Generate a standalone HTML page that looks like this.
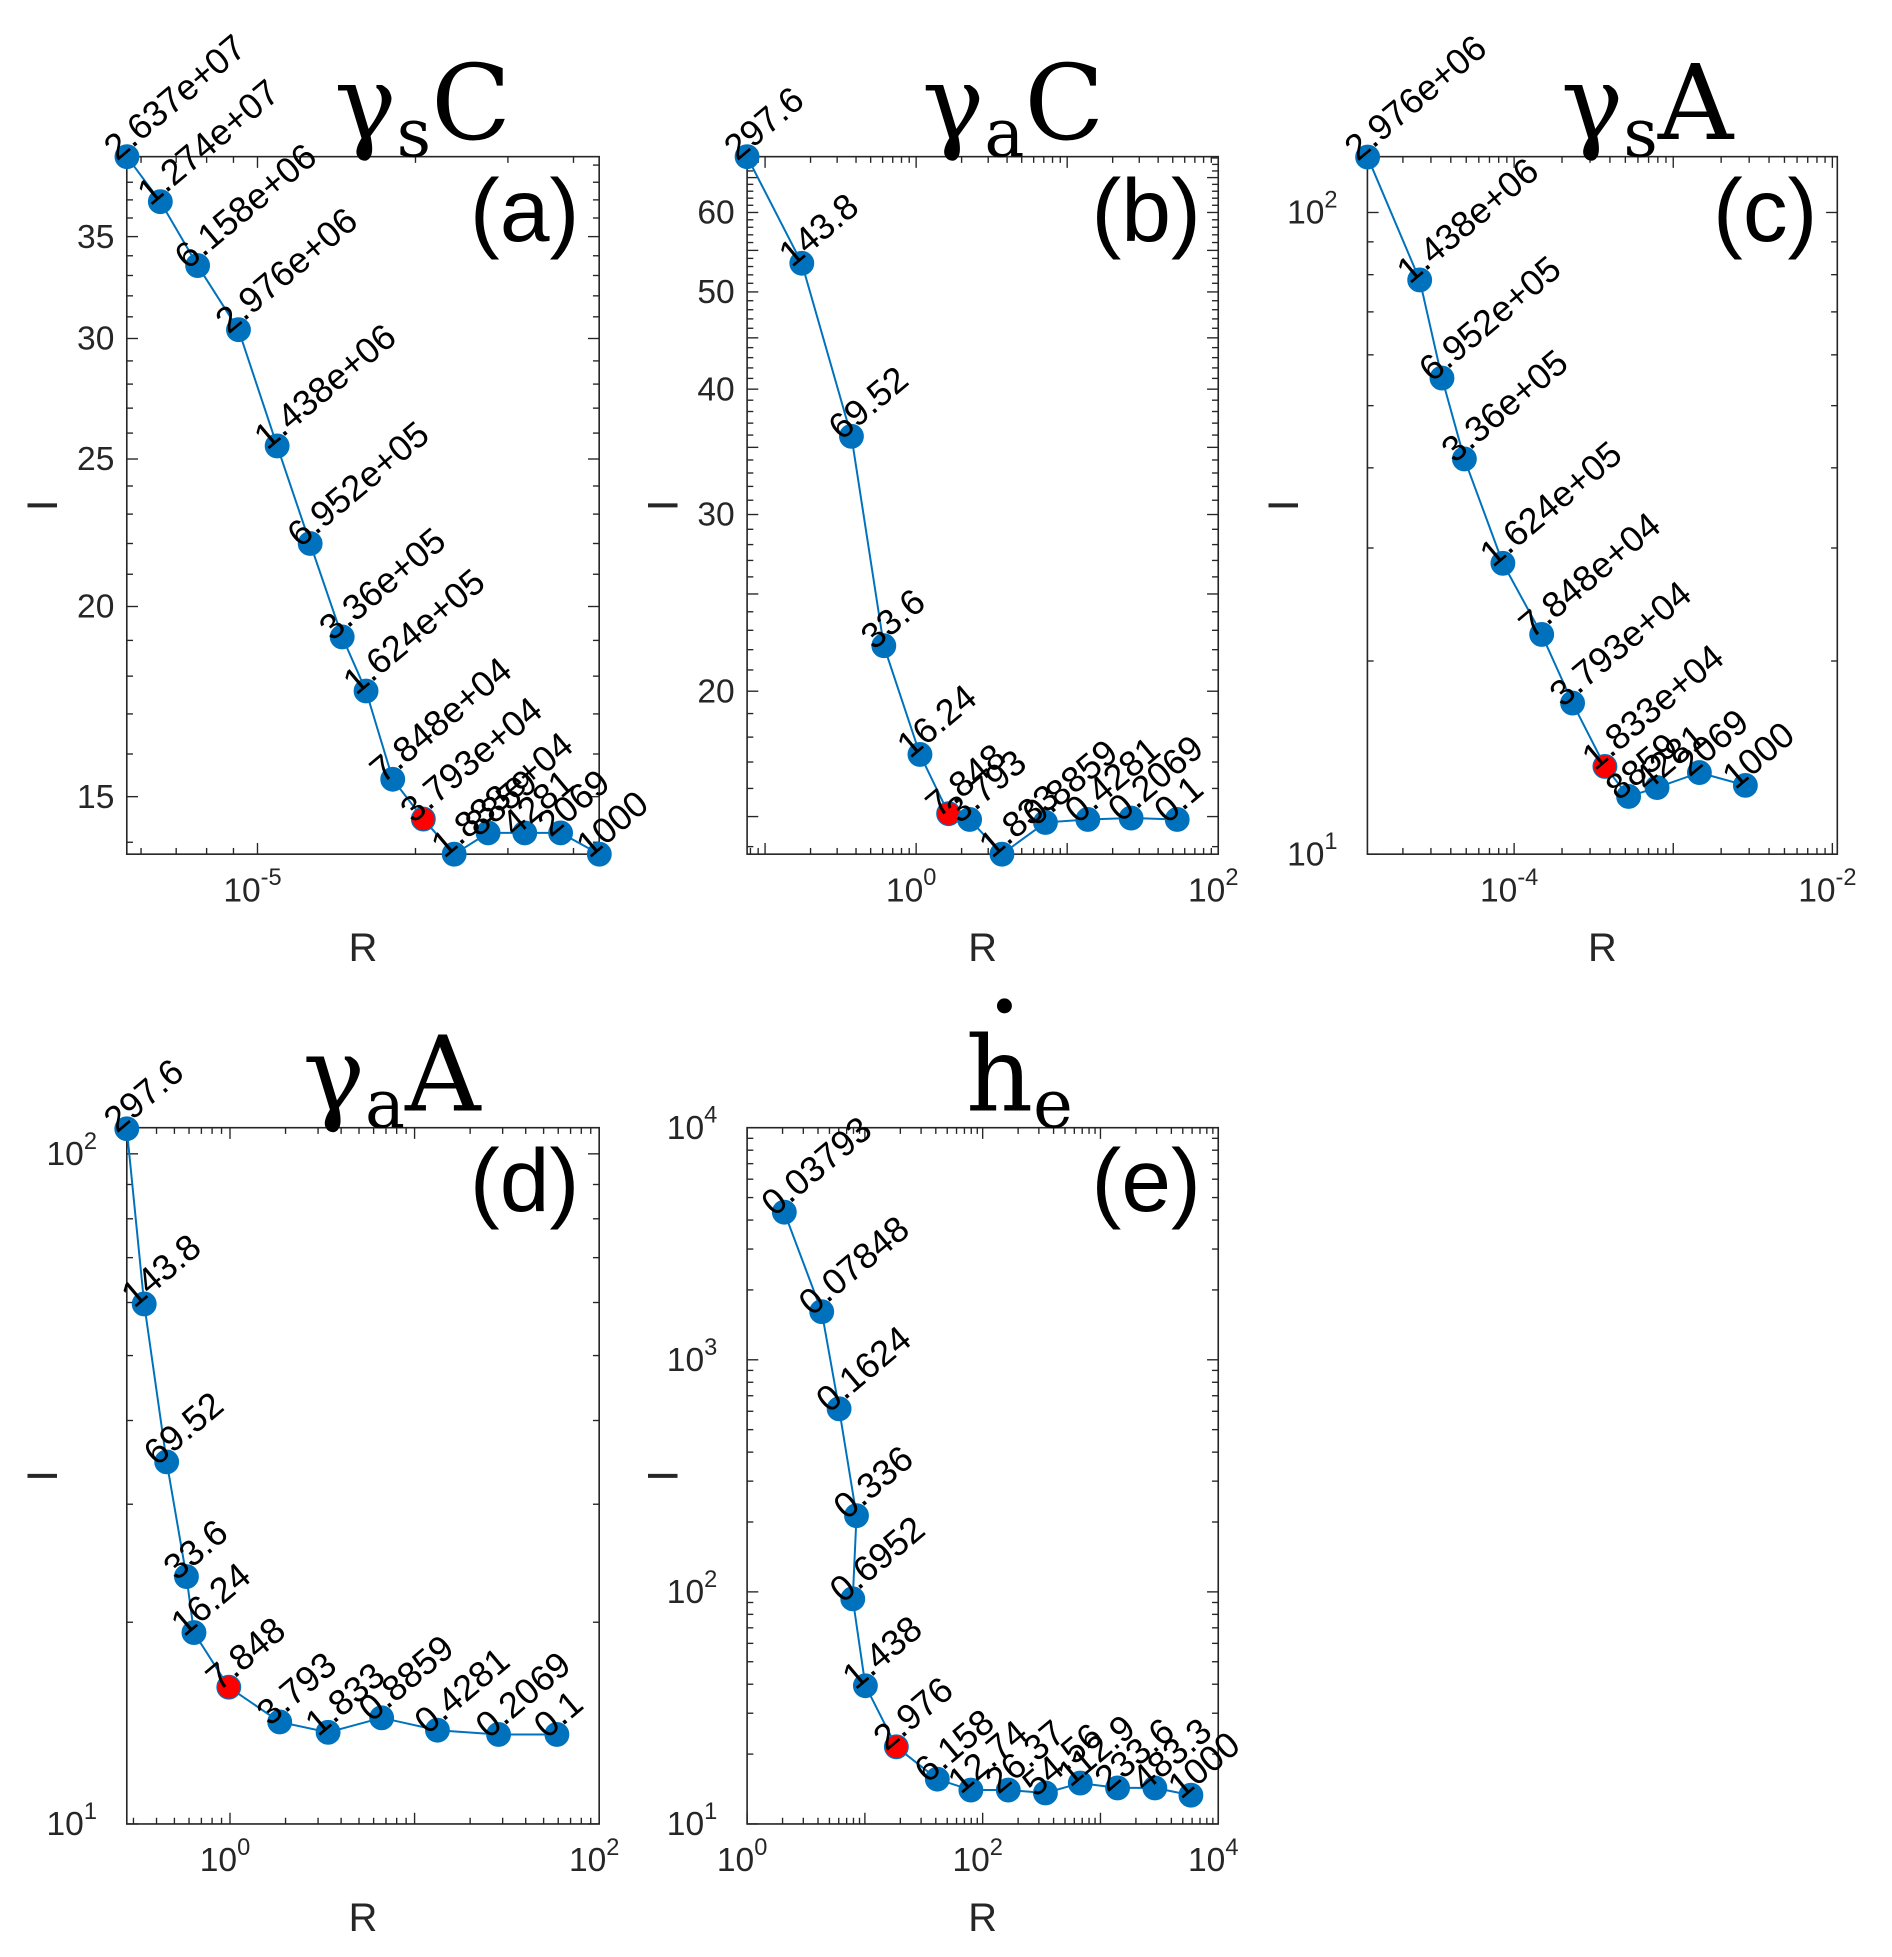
<!DOCTYPE html>
<html><head><meta charset="utf-8"><style>
html,body{margin:0;padding:0;background:#fff;}
svg{display:block;}
</style></head><body>
<svg id="fig" width="1892" height="1957" viewBox="0 0 1522 1574" preserveAspectRatio="none" xmlns="http://www.w3.org/2000/svg" font-family="Liberation Sans, sans-serif"></svg>
<script>
// ---- data (panel a) ----
const aR=[5.64e-6,6.53e-6,7.69e-6,9.2e-6,1.09e-5,1.26e-5,1.45e-5,1.61e-5,1.81e-5,2.07e-5,2.37e-5,2.75e-5,3.23e-5,3.78e-5,4.48e-5];
const aI=[39.5,36.9,33.5,30.4,25.5,22.0,19.1,17.6,15.4,14.5,13.75,14.2,14.2,14.2,13.75];
const aLabels=["2.637e+07","1.274e+07","6.158e+06","2.976e+06","1.438e+06","6.952e+05","3.36e+05","1.624e+05","7.848e+04","3.793e+04","1.833e+04","8859","4281","2069","1000"];
const aRed=9;
// ---- data (panel b) ----
const bR=[0.076,0.175,0.373,0.611,1.06,1.64,2.26,3.70,7.18,13.7,26.5,53.5];
const bI=[68.2,53.4,35.9,22.2,17.3,15.1,14.9,13.76,14.8,14.9,14.95,14.9];
const bLabels=["297.6","143.8","69.52","33.6","16.24","7.848","3.793","1.833","0.8859","0.4281","0.2069","0.1"];
const bRed=5;
// ---- data (panel c) ----
const cR=[1.20e-5,2.55e-5,3.52e-5,4.87e-5,8.5e-5,1.49e-4,2.33e-4,3.72e-4,5.24e-4,7.91e-4,1.46e-3,2.84e-3];
const cI=[122,78.5,55.2,41.3,28.4,22.0,17.2,13.7,12.3,12.7,13.4,12.8];
const cLabels=["2.976e+06","1.438e+06","6.952e+05","3.36e+05","1.624e+05","7.848e+04","3.793e+04","1.833e+04","8859","4281","2069","1000"];
const cRed=7;
// ---- data (panel d) ----
const dR=[0.276,0.343,0.454,0.581,0.638,0.985,1.86,3.40,6.63,13.3,28.5,59.0];
const dI=[109,59.7,34.7,23.4,19.3,16.0,14.2,13.7,14.4,13.8,13.6,13.6];
const dLabels=["297.6","143.8","69.52","33.6","16.24","7.848","3.793","1.833","0.8859","0.4281","0.2069","0.1"];
const dRed=5;
// ---- data (panel e) ----
const eR=[2.07,4.30,6.04,8.49,7.89,10.1,18.5,41.2,79.4,165,341,674,1397,2897,5860];
const eI=[4325,1611,615,213,93.3,39.4,21.5,15.6,14.0,14.0,13.6,15.0,14.3,14.3,13.3];
const eLabels=["0.03793","0.07848","0.1624","0.336","0.6952","1.438","2.976","6.158","12.74","26.37","54.56","112.9","233.6","483.3","1000"];
const eRed=6;
// tick labels
const aYTicks=[15,20,25,30,35]; const aXTicks=[-5];
const bYTicks=[20,30,40,50,60]; const bXTicks=[0,2];
const cYTicks=[1,2]; const cXTicks=[-4,-2];
const dYTicks=[1,2]; const dXTicks=[0,2];
const eYTicks=[1,2,3,4]; const eXTicks=[0,2,4];

const NS="http://www.w3.org/2000/svg";
const svg=document.getElementById('fig');
function el(t,a,p){const e=document.createElementNS(NS,t);for(const k in a)e.setAttribute(k,a[k]);(p||svg).appendChild(e);return e;}

const panels=[
 {id:'a',box:[102,126,482,687],xd:[-5.249,-4.349],yd:[Math.log10(13.75),Math.log10(39.5)],R:aR,I:aI,L:aLabels,red:aRed,yt:aYTicks,yPow:false,xt:aXTicks,ytMinorLin:[14,40],title:['γ','s','C'],tx:340,ty:112,lbl:'(a)',lx:422,ly:194},
 {id:'b',box:[601,126,980,687],xd:[-1.119,2],yd:[Math.log10(13.76),Math.log10(68.2)],R:bR,I:bI,L:bLabels,red:bRed,yt:bYTicks,yPow:false,xt:bXTicks,ytMinorLin:[14,68],title:['γ','a','C'],tx:815,ty:112,lbl:'(b)',lx:922,ly:194},
 {id:'c',box:[1100,126,1478,687],xd:[-4.922,-1.969],yd:[1,2.087],R:cR,I:cI,L:cLabels,red:cRed,yt:cYTicks,yPow:true,xt:cXTicks,title:['γ','s','A'],tx:1325,ty:112,lbl:'(c)',lx:1420,ly:194},
 {id:'d',box:[102,907,482,1467],xd:[-0.559,2],yd:[1,2.039],R:dR,I:dI,L:dLabels,red:dRed,yt:dYTicks,yPow:true,xt:dXTicks,title:['γ','a','A'],tx:315,ty:893,lbl:'(d)',lx:422,ly:974},
 {id:'e',box:[601,907,980,1467],xd:[0,4],yd:[1,4],R:eR,I:eI,L:eLabels,red:eRed,yt:eYTicks,yPow:true,xt:eXTicks,title:['h','e',''],tx:820,ty:893,lbl:'(e)',lx:922,ly:974,dot:true}
];

panels.forEach(p=>{
 const g=el('g',{});
 
 
 const [x0,y0,x1,y1]=p.box;
 const sx=v=>x0+(Math.log10(v)-p.xd[0])/(p.xd[1]-p.xd[0])*(x1-x0);
 const sy=v=>y1-(Math.log10(v)-p.yd[0])/(p.yd[1]-p.yd[0])*(y1-y0);
 const sxl=l=>x0+(l-p.xd[0])/(p.xd[1]-p.xd[0])*(x1-x0);
 const syl=l=>y1-(l-p.yd[0])/(p.yd[1]-p.yd[0])*(y1-y0);
 const box=el('rect',{x:x0,y:y0,width:x1-x0,height:y1-y0,fill:'#fff',stroke:'#262626','stroke-width':1.3},g);
 
 
 const tg=el('g',{stroke:'#262626','stroke-width':1.1},g);
 for(let d=Math.floor(p.xd[0]);d<=Math.ceil(p.xd[1]);d++){
  for(let m=1;m<10;m++){
   const l=d+Math.log10(m); if(l<p.xd[0]-1e-6||l>p.xd[1]+1e-6)continue;
   const X=sxl(l), len=m==1?9:5;
   el('line',{x1:X,y1:y1,x2:X,y2:y1-len},tg);el('line',{x1:X,y1:y0,x2:X,y2:y0+len},tg);
  }
 }
 p.xt.forEach(d=>{
  const t=el('text',{x:sxl(d)-4,y:y1+38,'font-size':27,fill:'#262626','text-anchor':'middle'},g);
  
  
  t.textContent='10';const s=el('tspan',{dy:-13,'font-size':19},t);s.textContent=String(d);
 });
 if(p.yPow){
  for(let d=Math.floor(p.yd[0]);d<=Math.ceil(p.yd[1]);d++){
   for(let m=1;m<10;m++){const l=d+Math.log10(m);if(l<p.yd[0]-1e-6||l>p.yd[1]+1e-6)continue;
    const Y=syl(l),len=m==1?9:5;
    el('line',{x1:x0,y1:Y,x2:x0+len,y2:Y},tg);el('line',{x1:x1,y1:Y,x2:x1-len,y2:Y},tg);}
  }
  p.yt.forEach(d=>{
   const t=el('text',{x:x0-24,y:syl(d)+9,'font-size':27,fill:'#262626','text-anchor':'end'},g);
   
   
   t.textContent='10';const s=el('tspan',{dy:-13,'font-size':19},t);s.textContent=String(d);
  });
 } else {
  for(let v=p.ytMinorLin[0];v<=p.ytMinorLin[1];v++){
   const Y=sy(v);if(Y<y0||Y>y1)continue;const len=v%5==0?9:5;
   el('line',{x1:x0,y1:Y,x2:x0+len,y2:Y},tg);el('line',{x1:x1,y1:Y,x2:x1-len,y2:Y},tg);
  }
  p.yt.forEach(v=>{
   const t=el('text',{x:x0-10,y:sy(v)+9,'font-size':27,fill:'#262626','text-anchor':'end'},g);
   
   
   t.textContent=String(v);
  });
 }
 const xl=el('text',{x:(x0+x1)/2,y:y1+86,'font-size':32,fill:'#262626','text-anchor':'middle'},g);
 
 
 xl.textContent='R';
 const yx=x0-56, yy=(y0+y1)/2;
 const yl=el('text',{x:yx,y:yy,'font-size':34,fill:'#262626','text-anchor':'middle',transform:`rotate(-90 ${yx} ${yy})`},g);
 
 
 yl.textContent='I';
 const pts=p.R.map((r,i)=>sx(r)+','+sy(p.I[i])).join(' ');
 const pl=el('polyline',{points:pts,fill:'none',stroke:'#0072BD','stroke-width':1.6},g);
 
 
 p.R.forEach((r,i)=>{
  const c=el('circle',{cx:sx(r),cy:sy(p.I[i]),r:9.5,fill:i==p.red?'#FF0000':'#0072BD',stroke:'#0072BD','stroke-width':1},g);
  
  
 });
 p.R.forEach((r,i)=>{
  const X=sx(r)-8,Y=sy(p.I[i])+4;
  const t=el('text',{x:X,y:Y,'font-size':29,fill:'#000',transform:`rotate(-40 ${X} ${Y})`},g);
  
  
  t.textContent=p.L[i];
 });
 const tt=el('text',{x:p.tx,y:p.ty,'font-size':84,fill:'#000','text-anchor':'middle','font-family':'DejaVu Serif, Liberation Serif, serif'},svg);
 
 
 tt.textContent=p.title[0];
 const ts=el('tspan',{dy:14,'font-size':54},tt);ts.textContent=p.title[1];
 if(p.title[2]){const t3=el('tspan',{dy:-14},tt);t3.textContent=p.title[2];}
 if(p.dot){const dd=el('circle',{cx:p.tx-12,cy:p.ty-84,r:6,fill:'#000'});}
 const lb=el('text',{x:p.lx,y:p.ly,'font-size':72,fill:'#000','text-anchor':'middle'},svg);
 
 
 lb.textContent=p.lbl;
});
</script>
</body></html>
